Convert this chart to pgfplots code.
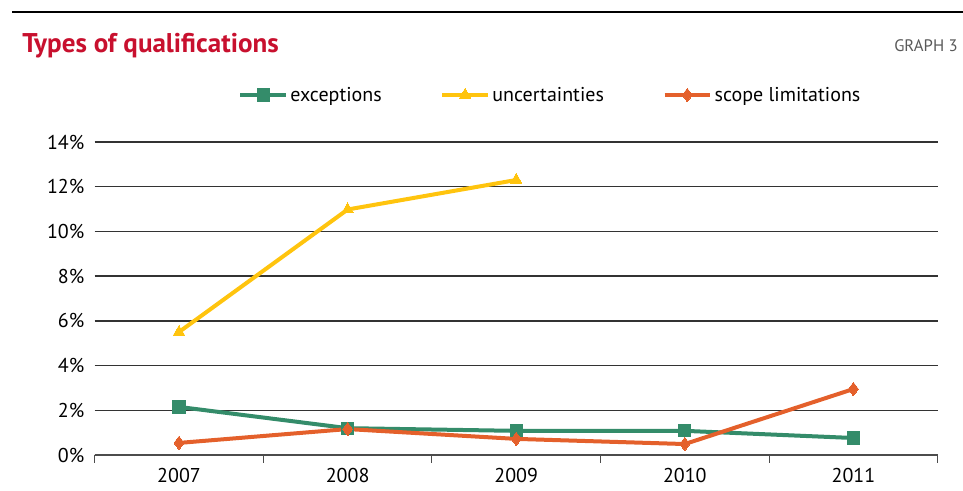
\documentclass[border=0pt]{standalone}
\usepackage{pgfplots}
\pgfplotsset{compat=1.18}
\usepackage{fontspec}
\setmainfont{PT Sans}
\definecolor{cgreen}{RGB}{52,140,106}
\definecolor{cyellow}{RGB}{255,196,14}
\definecolor{corange}{RGB}{228,96,43}
\definecolor{cred}{RGB}{200,16,46}
\begin{document}
\begin{tikzpicture}[x=0.75pt,y=0.75pt]
\useasboundingbox (0,0) rectangle (963,491);
\draw[line width=2.2pt] (12,479) -- (963,479);
\node[anchor=base west,text=cred,font=\bfseries\fontsize{20.3}{23}\selectfont,inner sep=0pt] at (22,438) {Types of qualifications};
\node[anchor=base east,text=black!65,font=\fontsize{12.5}{15}\selectfont,inner sep=0pt] at (958,439) {GRAPH 3};
\coordinate (O) at (179,36);
\begin{axis}[
  at={(O)}, anchor=origin,
  scale only axis, width=632.25pt, height=234.75pt,
  xmin=-0.5, xmax=4.5, ymin=0, ymax=14,
  xtick={0,1,2,3,4}, xticklabels={2007,2008,2009,2010,2011},
  minor xtick={-0.5,0.5,1.5,2.5,3.5,4.5},
  major x tick style={draw=none},
  minor x tick style={black!70,line width=0.8pt},
  minor tick length=6pt,
  tick align=outside,
  ytick={0,2,...,14},
  yticklabel={\pgfmathprintnumber{\tick}\%},
  /pgf/number format/assume math mode=true,
  y tick style={draw=none},
  ymajorgrids, major grid style={black!80,line width=1pt},
  axis x line*=bottom, axis y line*=left,
  x axis line style={-,black!70,line width=1pt},
  y axis line style={draw=none},
  tick label style={font=\fontsize{15}{18}\selectfont},
  xticklabel style={yshift=-2pt},
  clip=false,
  legend columns=3,
  legend style={at={(0.541,1.15)},anchor=center,draw=none,fill=none,
    font=\fontsize{15}{18}\selectfont,
    /tikz/every even column/.append style={column sep=42pt}},
  legend image code/.code={\draw[mark repeat=2,mark phase=2] plot coordinates {(0pt,0pt) (17pt,0pt) (34pt,0pt)};},
  every axis plot/.append style={line width=3pt},
]
\addplot[cgreen,mark=square*,mark size=4.6pt,mark options={solid,line width=0pt}] coordinates {(0,2.15) (1,1.2) (2,1.08) (3,1.08) (4,0.76)};
\addlegendentry{exceptions}
\addplot[cyellow,mark=triangle*,mark size=5pt,mark options={solid,line width=0pt}] coordinates {(0,5.5) (1,10.98) (2,12.3)};
\addlegendentry{uncertainties}
\addplot[corange,mark=diamond*,mark size=5pt,mark options={solid,line width=0pt}] coordinates {(0,0.54) (1,1.16) (2,0.72) (3,0.49) (4,2.95)};
\addlegendentry{scope limitations}
\end{axis}
\end{tikzpicture}
\end{document}
